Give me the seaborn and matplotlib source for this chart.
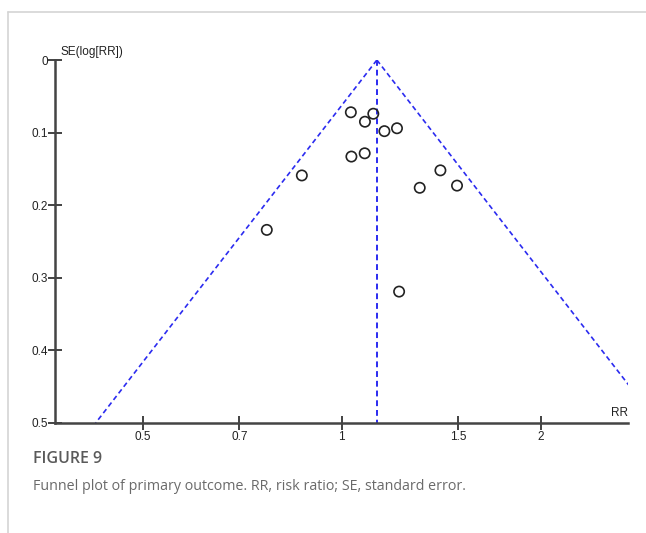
import numpy as np
import pandas as pd
import matplotlib
matplotlib.use("Agg")
import matplotlib.pyplot as plt
from matplotlib.lines import Line2D
import seaborn as sns

# study estimates
rr = [1.032, 1.116, 1.084, 1.160, 1.212, 1.034, 1.083, 0.870, 1.410, 1.312, 1.494, 0.770, 1.221]
se = [0.072, 0.074, 0.085, 0.098, 0.094, 0.133, 0.1285, 0.159, 0.152, 0.176, 0.173, 0.234, 0.319]
pooled_rr = 1.13
se_max = 0.5

x_ticks = [0.5, 0.7, 1, 1.5, 2]
x_tick_labels = ["0.5", "0.7", "1", "1.5", "2"]
y_ticks = [0, 0.1, 0.2, 0.3, 0.4, 0.5]
y_tick_labels = ["0", "0.1", "0.2", "0.3", "0.4", "0.5"]

df = pd.DataFrame({"RR": rr, "SE": se})

sns.set_style("white")
plt.rcParams["font.family"] = ["Liberation Sans", "DejaVu Sans"]

fig = plt.figure(figsize=(6.46, 5.33), dpi=100)
ax = fig.add_axes([0.085, 0.2064, 0.887, 0.681])

# funnel (95% pseudo confidence limits)
se_line = np.array([0, se_max])
lo = np.exp(np.log(pooled_rr) - 1.96 * se_line)
hi = np.exp(np.log(pooled_rr) + 1.96 * se_line)
blue = "#2b2bf0"
ax.plot(lo, se_line, ls=(0, (3, 2)), color=blue, lw=1.2, zorder=1)
ax.plot(hi, se_line, ls=(0, (3, 2)), color=blue, lw=1.2, zorder=1)
ax.plot([pooled_rr, pooled_rr], se_line, ls=(0, (3, 2)), color=blue, lw=1.4, zorder=1)

sns.scatterplot(data=df, x="RR", y="SE", ax=ax, s=55, marker="o",
                facecolor="none", edgecolor="#222222", linewidth=1.2, zorder=3)

ax.set_xscale("log")
ax.set_xlim(0.368, 2.71)
ax.set_ylim(0.5, 0)
ax.set_xticks(x_ticks)
ax.set_xticklabels(x_tick_labels)
ax.minorticks_off()
ax.set_yticks(y_ticks)
ax.set_yticklabels(y_tick_labels)
ax.set_xlabel("")
ax.set_ylabel("")

for s in ["top", "right"]:
    ax.spines[s].set_visible(False)
for s in ["left", "bottom"]:
    ax.spines[s].set_color("#444444")
    ax.spines[s].set_linewidth(1.8)
ax.tick_params(axis="both", which="major", bottom=True, left=True,
               direction="inout", length=10, width=1.2,
               color="#222222", labelsize=8.5, labelcolor="#222222")
ax.tick_params(axis="x", pad=1)
ax.tick_params(axis="y", pad=0)

ax.text(0.01, 1.005, "SE(log[RR])", transform=ax.transAxes, fontsize=8.5,
        color="#222222", ha="left", va="bottom")
ax.text(1.0, 0.01, "RR", transform=ax.transAxes, fontsize=8.5,
        color="#222222", ha="right", va="bottom")

# page frame
fig.add_artist(Line2D([0.0124, 1], [0.9775, 0.9775], color="#d4d4d4", lw=1.2))
fig.add_artist(Line2D([0.0124, 0.0124], [0, 0.9775], color="#d4d4d4", lw=1.2))

fig.text(0.051, 0.139, "FIGURE 9", fontsize=11.5, color="#5a5a5a",
         family=["Open Sans", "DejaVu Sans"], fontweight="semibold", va="center")
fig.text(0.051, 0.088, "Funnel plot of primary outcome. RR, risk ratio; SE, standard error.",
         fontsize=10.3, color="#6a6a6a", family=["Open Sans", "DejaVu Sans"], va="center")

fig.savefig("out.png", dpi=100)
